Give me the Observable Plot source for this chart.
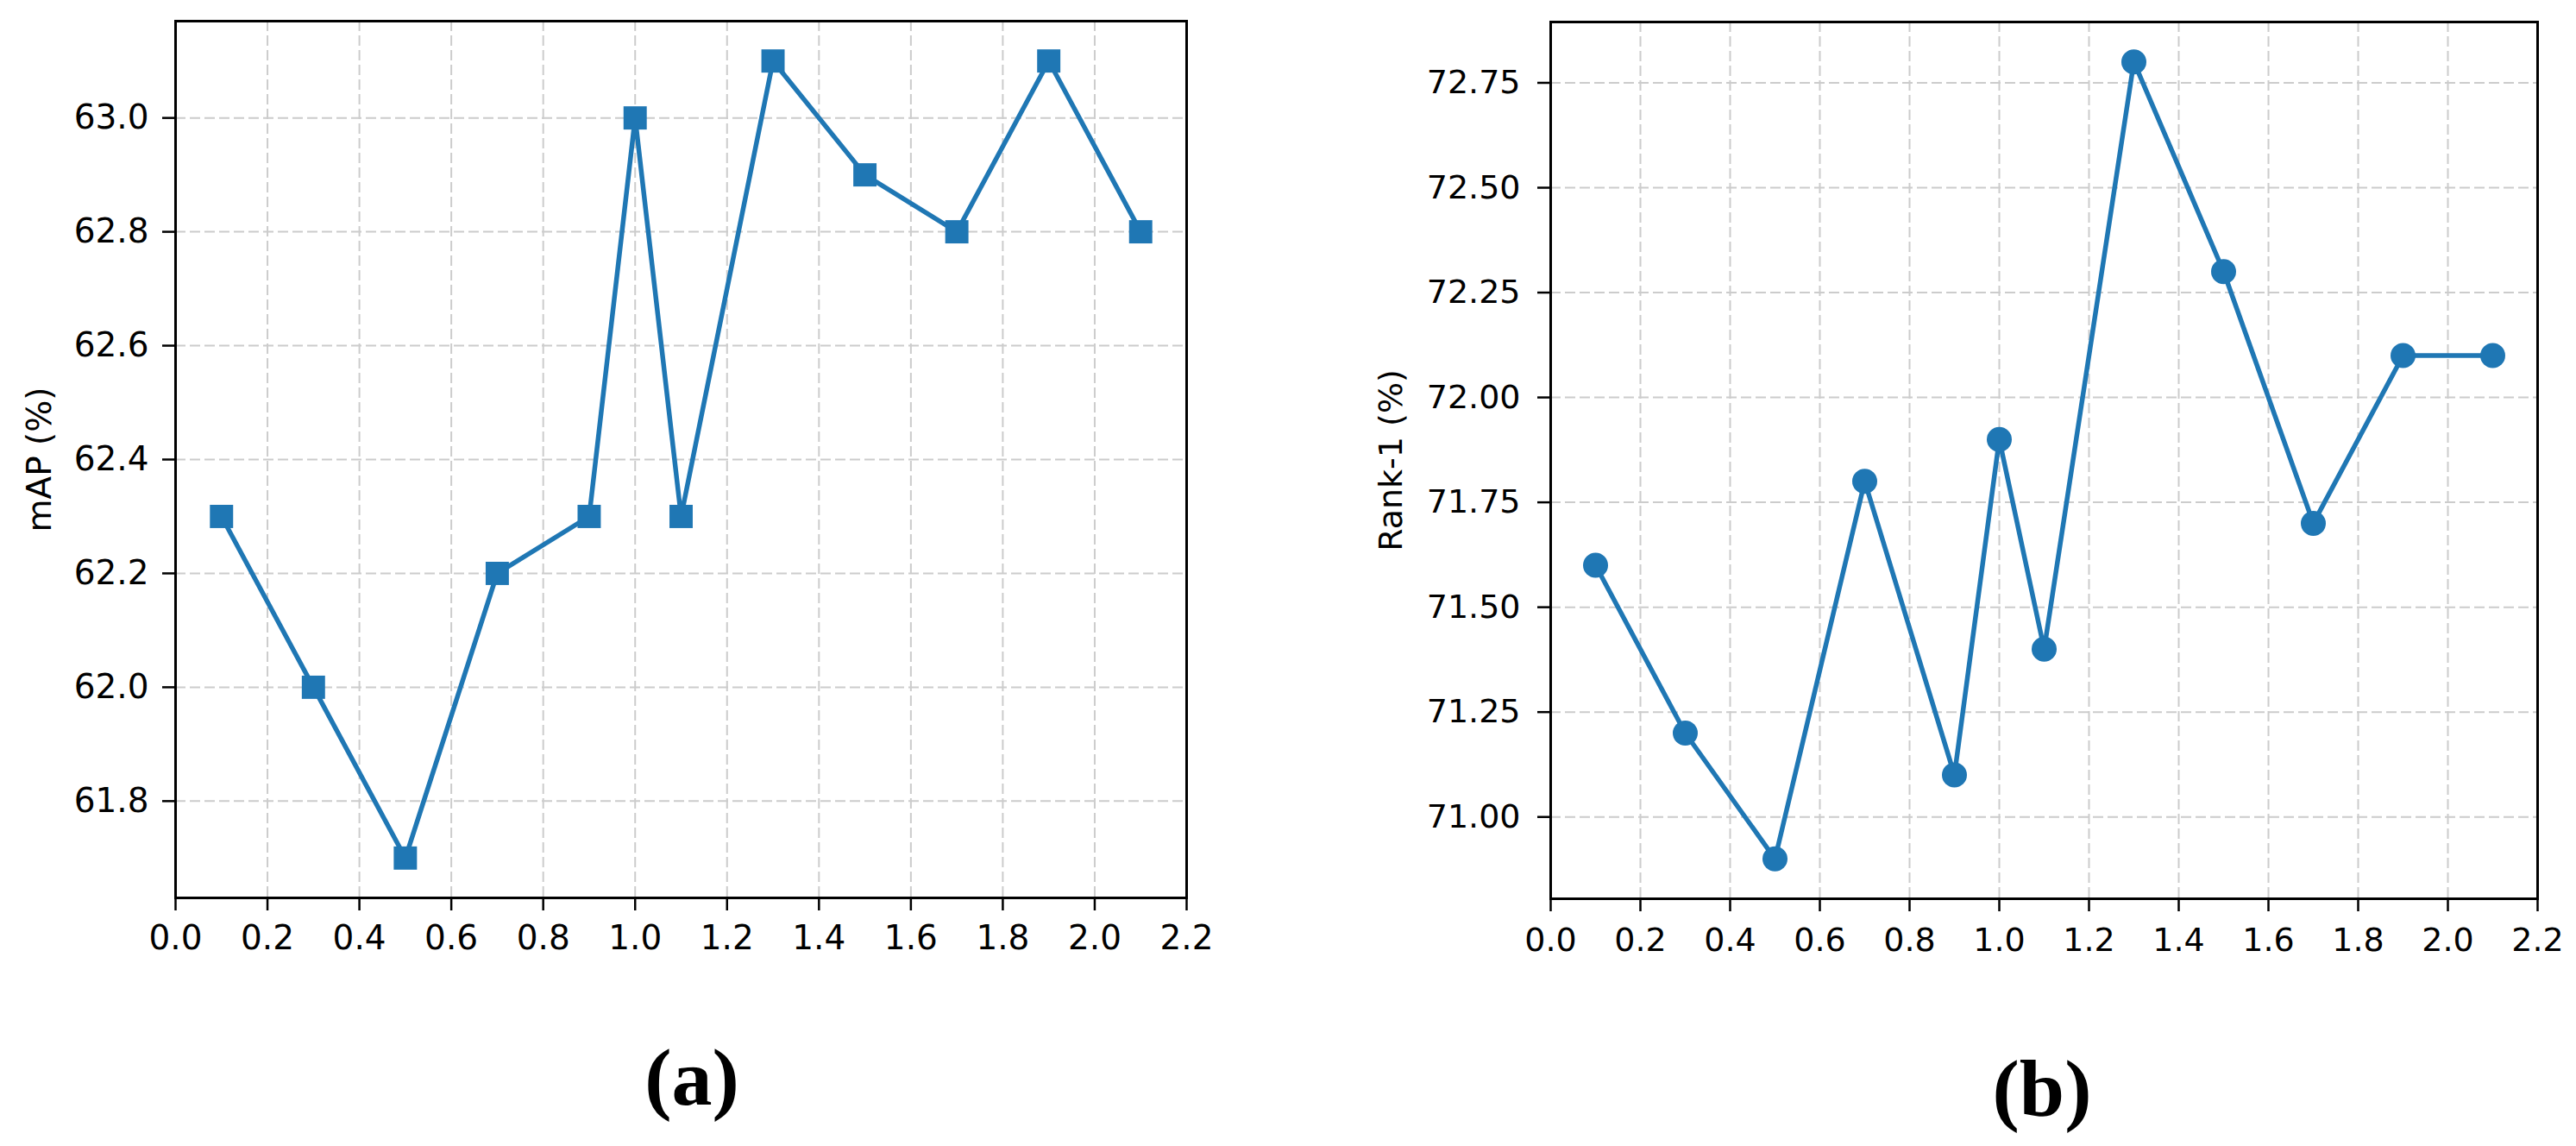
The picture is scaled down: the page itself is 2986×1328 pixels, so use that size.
<!DOCTYPE html>
<html>
<head>
<meta charset="utf-8">
<script src="https://cdn.jsdelivr.net/npm/d3@7"></script>
<script src="https://cdn.jsdelivr.net/npm/@observablehq/plot@0.6"></script>
<style>
  html, body { margin: 0; padding: 0; background: #fff; }
  #page { position: relative; width: 2986px; height: 1328px; background: #fff; overflow: hidden; }
  .panel { position: absolute; top: 0; }
  .cap { position: absolute; width: 300px; text-align: center; font-family: "Liberation Serif", "Times New Roman", serif; font-weight: bold; font-size: 94px; line-height: 94px; color: #000; }
</style>
</head>
<body>
<div id="page">
  <div id="pa" class="panel" style="left:0px"></div>
  <div id="pb" class="panel" style="left:1500px"></div>
  <div class="cap" style="left:652px; top:1201px">(a)</div>
  <div class="cap" style="left:2217px; top:1214px">(b)</div>
</div>
<script>
// ---- data ----
const xValues = [0.1, 0.3, 0.5, 0.7, 0.9, 1.0, 1.1, 1.3, 1.5, 1.7, 1.9, 2.1];
const mapValues = [62.3, 62.0, 61.7, 62.2, 62.3, 63.0, 62.3, 63.1, 62.9, 62.8, 63.1, 62.8];
const rank1Values = [71.6, 71.2, 70.9, 71.8, 71.1, 71.9, 71.4, 72.8, 72.3, 71.7, 72.1, 72.1];
const xTicks = [0.0, 0.2, 0.4, 0.6, 0.8, 1.0, 1.2, 1.4, 1.6, 1.8, 2.0, 2.2];
const mapTicks = [61.8, 62.0, 62.2, 62.4, 62.6, 62.8, 63.0];
const rank1Ticks = [71.00, 71.25, 71.50, 71.75, 72.00, 72.25, 72.50, 72.75];
const yLabelA = "mAP (%)";
const yLabelB = "Rank-1 (%)";

// matplotlib-like 5% padding
function padded(vals) {
  const [lo, hi] = d3.extent(vals);
  const m = (hi - lo) * 0.05;
  return [lo - m, hi + m];
}

const blue = "#1f77b4";
const gridStyle = {stroke: "#cccccc", strokeOpacity: 1, strokeWidth: 2, strokeDasharray: "12,5"};

function panel(opts) {
  const data = xValues.map((x, i) => ({x, y: opts.values[i]}));
  return Plot.plot({
    width: opts.width,
    height: 1110,
    marginLeft: opts.ml,
    marginRight: opts.mr,
    marginTop: opts.mt,
    marginBottom: 1110 - opts.mb,
    style: {fontFamily: "DejaVu Sans", fontSize: opts.fs + "px", background: "white", color: "#000", overflow: "visible"},
    x: {domain: padded(xValues)},
    y: {domain: padded(opts.values)},
    marks: [
      Plot.gridX(xTicks, gridStyle),
      Plot.gridY(opts.ticks, gridStyle),
      Plot.axisX(xTicks, {tickSize: 15, tickPadding: opts.xpad, tickFormat: d3.format(".1f"), strokeWidth: 2.5, label: null, fontSize: opts.fs}),
      Plot.axisY(opts.ticks, {tickSize: 15, tickPadding: opts.ypad, tickFormat: d3.format(opts.yfmt), strokeWidth: 2.5, label: null, fontSize: opts.fs}),
      Plot.line(data, {x: "x", y: "y", stroke: blue, strokeWidth: 5.5}),
      Plot.dot(data, {x: "x", y: "y", symbol: opts.symbol, r: opts.r, fill: blue, stroke: "none"}),
      Plot.frame({stroke: "#000", strokeWidth: 3}),
      Plot.text([opts.label], {text: d => d, frameAnchor: "left", rotate: -90, dx: opts.ldx, fontSize: opts.fs, textAnchor: "middle", lineAnchor: "middle", fill: "#000"})
    ]
  });
}

document.getElementById("pa").appendChild(panel({
  values: mapValues, ticks: mapTicks, yfmt: ".1f", label: yLabelA,
  width: 1480, ml: 203, mr: 1480 - 1375, mt: 24, mb: 1040,
  fs: 39, xpad: 17, ypad: 16, symbol: "square", r: 15.2, ldx: -157
}));
document.getElementById("pb").appendChild(panel({
  values: rank1Values, ticks: rank1Ticks, yfmt: ".2f", label: yLabelB,
  width: 1486, ml: 297, mr: 1486 - 1441, mt: 25, mb: 1041,
  fs: 38, xpad: 19, ypad: 20, symbol: "circle", r: 14.5, ldx: -185
}));
</script>
</body>
</html>
